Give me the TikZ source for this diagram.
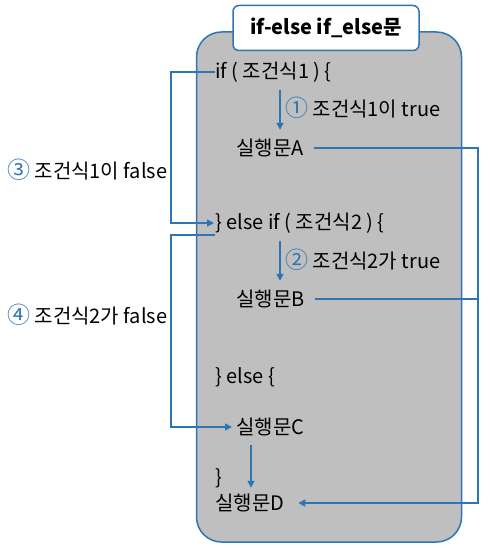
\documentclass[tikz,border=0pt]{standalone}
\usepackage{fontspec}
\setmainfont{Noto Sans CJK KR}
\usetikzlibrary{
    arrows.meta, % for the triangle tips
    positioning % for placing nodes relative to other nodes
}
\definecolor{lineblue}{RGB}{46,117,182}
\definecolor{boxgray}{RGB}{191,191,191}
\newcommand{\stepnum}[1]{{\fontsize{23}{24}\selectfont\color{lineblue}#1}}

\begin{document}
\begin{tikzpicture}[
        x=1pt,y=-1pt,>={Triangle[length=7pt,width=7pt]},
        font=\fontsize{20}{24}\selectfont,
        every node/.style = {inner sep=0pt},
        code/.style       = {anchor=west},
        flow/.style       = {draw=lineblue,line width=1.5pt}
    ]
    \useasboundingbox (0,0) rectangle (490,548);

    % gray area and its title
    \node [draw=lineblue,line width=1.5pt,fill=boxgray,rounded corners=25pt,
           minimum width=265pt,minimum height=510pt] (frame) at (329,287) {};
    \node [draw=lineblue,line width=1.5pt,fill=white,rounded corners=6pt,
           minimum width=186pt,minimum height=45pt,font=\fontsize{20}{24}\selectfont\bfseries]
           (title) at (326,28) {if-else if\_else문};

    % the code
    \node [code] (if1)   at (215,72)  {if ( 조건식1 ) \{};
    \node [code] (stmtA) at (236,148) {실행문A};
    \node [code] (elif)  at (215,223) {\} else if ( 조건식2 ) \{};
    \node [code] (stmtB) at (236,299) {실행문B};
    \node [code] (else)  at (215,377) {\} else \{};
    \node [code] (stmtC) at (236,427) {실행문C};
    \node [code] (close) at (215,478) {\}};
    \node [code] (stmtD) at (215,503) {실행문D};

    % the branch labels
    \node [code] (true1)  at (285,108) {\stepnum{①} 조건식1이 true};
    \node [code] (true2)  at (285,260) {\stepnum{②} 조건식2가 true};
    \node [code] (false1) at (7,170)   {\stepnum{③} 조건식1이 false};
    \node [code] (false2) at (7,315)   {\stepnum{④} 조건식2가 false};

    \coordinate (loop) at (171,0);
    \coordinate (rail) at (478,0);

    % true branches
    \draw [flow,->,shorten <=8pt,shorten >=9pt] ([xshift=-5pt]true1.west |- if1.south)
        -- ([xshift=-5pt]true1.west |- stmtA.north);
    \draw [flow,->,shorten <=8pt,shorten >=9pt] ([xshift=-5pt]true2.west |- elif.south)
        -- ([xshift=-5pt]true2.west |- stmtB.north);
    \draw [flow,->,shorten <=9pt,shorten >=6pt] ([xshift=15pt]stmtC.south west)
        -- ([xshift=15pt]stmtC.south west |- stmtD.north);

    % false branches
    \draw [flow,->,shorten >=1pt] (if1.west) -- (if1.west -| loop) |- (elif.west);
    \draw [flow,->,shorten >=4pt] ([yshift=-12pt]elif.west) -- ([yshift=-12pt]elif.west -| loop)
        |- (stmtC.west);

    % out to the end
    \draw [flow,->,shorten <=10pt,shorten >=14pt] (stmtA.east) -- (stmtA.east -| rail)
        |- (stmtD.east);
    \draw [flow,shorten <=10pt] (stmtB.east) -- (stmtB.east -| rail);

\end{tikzpicture}
\end{document}
